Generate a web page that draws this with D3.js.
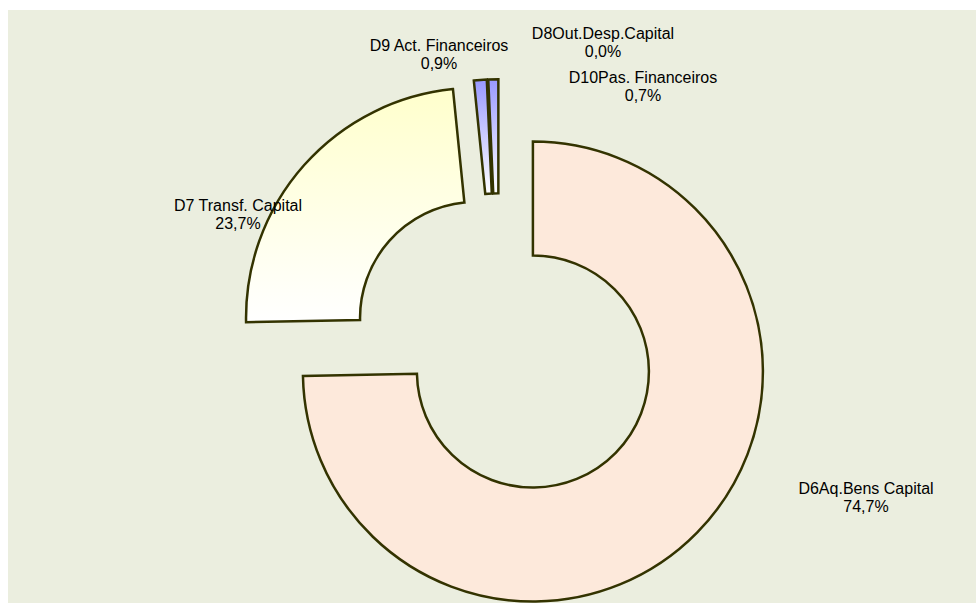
<!DOCTYPE html>
<html>
<head>
<meta charset="utf-8">
<script src="https://cdn.jsdelivr.net/npm/d3@7"></script>
<style>
  body { margin: 0; background: #ffffff; }
  svg { display: block; }
  text { font-family: "Liberation Sans", Arial, sans-serif; font-size: 16px; fill: #000; }
</style>
</head>
<body>
<svg id="chart" width="976" height="603"></svg>
<script>
// slices, clockwise from 12 o'clock
var categories = ["D6Aq.Bens Capital", "D7 Transf. Capital", "D9 Act. Financeiros", "D8Out.Desp.Capital", "D10Pas. Financeiros"];
var values = [74.7, 23.7, 0.9, 0.0, 0.7]; // percent

// fills: [top colour, bottom colour]
var fills = [["#FDE9DB", "#FDE9DB"], ["#FFFFCC", "#FFFFFF"], ["#9999FF", "#FFFFFF"], ["#9999FF", "#FFFFFF"], ["#9999FF", "#FFFFFF"]];

// how far each slice is pulled out (px)
var explode = [47.5, 30.7, 29, 29, 29];

// label anchors (centre x, first baseline y) as Excel put them
var labelPos = [[866, 494], [238, 211], [439, 51], [603, 39], [643, 83]];

var W = 976, H = 603;
var cx = 499, cy = 338.3;
var rOuter = 230, rInner = 116;

var svg = d3.select("#chart");

// plot area
svg.append("rect")
	.attr("x", 8).attr("y", 10)
	.attr("width", W - 8).attr("height", H - 10)
	.attr("fill", "#EBEEDF");

var defs = svg.append("defs");
fills.forEach(function(f, i) {
	var g = defs.append("linearGradient")
		.attr("id", "grad" + i)
		.attr("x1", 0).attr("y1", 0).attr("x2", 0).attr("y2", 1);
	g.append("stop").attr("offset", "0%").attr("stop-color", f[0]);
	g.append("stop").attr("offset", "100%").attr("stop-color", f[1]);
});

var data = categories.map(function(c, i) { return { name: c, value: values[i], idx: i }; });

var pie = d3.pie().sort(null).value(function(d) { return d.value; });
var arc = d3.arc().innerRadius(rInner).outerRadius(rOuter);

var slices = pie(data);

var g = svg.append("g").attr("transform", "translate(" + cx + "," + cy + ")");

g.selectAll("path.slice")
	.data(slices)
	.enter()
	.append("path")
	.attr("class", "slice")
	.attr("transform", function(d) {
		var a = (d.startAngle + d.endAngle) / 2;
		var e = explode[d.data.idx];
		return "translate(" + (Math.sin(a) * e) + "," + (-Math.cos(a) * e) + ")";
	})
	.attr("d", arc)
	.attr("fill", function(d) { return "url(#grad" + d.data.idx + ")"; })
	.attr("stroke", "#333300")
	.attr("stroke-width", 2.5)
	.attr("stroke-linejoin", "miter");

function fmt(v) {
	return v.toFixed(1).replace(".", ",") + "%";
}

var labels = svg.selectAll("text.lbl")
	.data(slices)
	.enter()
	.append("text")
	.attr("class", "lbl")
	.attr("text-anchor", "middle")
	.attr("x", function(d) { return labelPos[d.data.idx][0]; })
	.attr("y", function(d) { return labelPos[d.data.idx][1]; });

labels.append("tspan")
	.attr("x", function(d) { return labelPos[d.data.idx][0]; })
	.text(function(d) { return d.data.name; });
labels.append("tspan")
	.attr("x", function(d) { return labelPos[d.data.idx][0]; })
	.attr("dy", 18)
	.text(function(d) { return fmt(d.data.value); });
</script>
</body>
</html>
